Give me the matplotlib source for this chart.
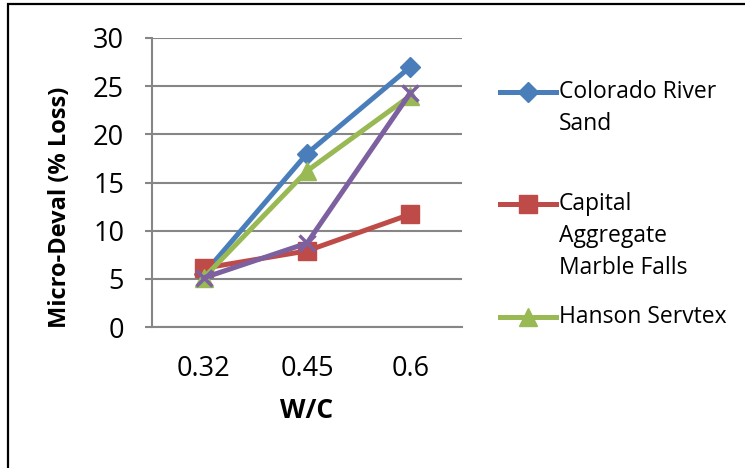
import matplotlib
matplotlib.use("Agg")
import matplotlib.pyplot as plt
from matplotlib.lines import Line2D
from matplotlib.patches import Rectangle

categories = ["0.32", "0.45", "0.6"]
colorado = [5.5, 18.0, 27.0]
capital = [6.1, 7.9, 11.7]
hanson = [5.1, 16.2, 24.0]
fourth = [5.1, 8.7, 24.3]
yticks = [0, 5, 10, 15, 20, 25, 30]

series = [
    ("Colorado River\nSand", colorado, "#4A7EBB", "D", 10, True),
    ("Capital\nAggregate\nMarble Falls", capital, "#BE4B48", "s", 13, True),
    ("Hanson Servtex", hanson, "#98B954", "^", 13, True),
    ("Series 4", fourth, "#7D60A0", "x", 11, False),
]

FONT = ["Open Sans", "DejaVu Sans"]
plt.rcParams["font.family"] = FONT

W, H = 745, 468
fig = plt.figure(figsize=(7.45, 4.68), dpi=100)
ax = fig.add_axes([152/W, 1-327/H, (462-152)/W, (327-38)/H])

x = list(range(len(categories)))
for label, vals, color, marker, ms, _ in series:
    ax.plot(x, vals, color=color, lw=3.6, marker=marker, ms=ms,
            markerfacecolor=color, markeredgecolor=color,
            markeredgewidth=2.5 if marker == "x" else 1, zorder=3)

ax.set_xlim(-0.5, 2.5)
ax.set_ylim(0, 30)
ax.set_yticks(yticks)
ax.set_xticks(x)
ax.set_xticklabels(categories)
ax.tick_params(axis="y", length=5, width=1.5, color="#868686", labelsize=19.5, pad=15)
ax.tick_params(axis="x", length=0, labelsize=19.5, pad=20)
ax.grid(axis="y", color="#868686", lw=1.5)
ax.set_axisbelow(True)
for s in ["top", "right"]:
    ax.spines[s].set_visible(False)
for s in ["left", "bottom"]:
    ax.spines[s].set_color("#868686")
    ax.spines[s].set_linewidth(1.5)

fig.text(60/W, 1-207/H, "Micro-Deval (% Loss)", rotation=90, fontsize=17,
         fontweight="bold", ha="center", va="center")
fig.text(307/W, 1-410/H, "W/C", fontsize=19, fontweight="bold",
         ha="center", va="center")

# legend drawn manually (Excel style, first-line aligned)
leg_y = [92, 204, 317]
gap = 32
for (label, vals, color, marker, ms, show), yy in zip(series, leg_y):
    if not show:
        continue
    fy = 1 - yy / H
    fig.add_artist(Line2D([500/W, 556/W], [fy, fy], color=color, lw=3.6,
                          transform=fig.transFigure))
    fig.add_artist(Line2D([528/W], [fy], color=color, marker=marker, ms=ms,
                          markeredgecolor=color, transform=fig.transFigure))
    n = label.count("\n")
    fig.text(559/W, fy - n * (gap / 2) / H, label, fontsize=16.5, va="center",
             ha="left", linespacing=1.45)

fig.add_artist(Rectangle((8/W, -0.1), 1.2, 1 - 4/H + 0.1, fill=False,
                         lw=1.6, edgecolor="black", transform=fig.transFigure))

fig.savefig("out.png", dpi=100)
